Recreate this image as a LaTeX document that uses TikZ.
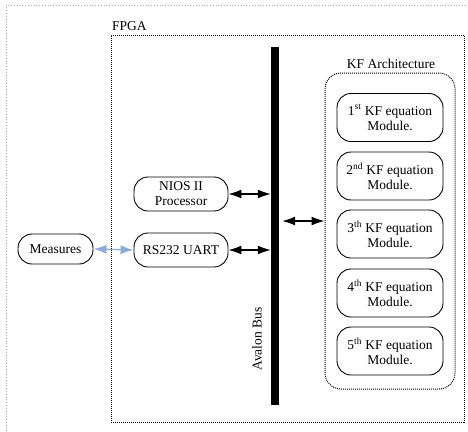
\documentclass[tikz,border=0pt]{standalone}
\usepackage{fontspec}
\setmainfont{Liberation Serif}
\usetikzlibrary{arrows.meta}
\begin{document}
\begin{tikzpicture}[x=1pt,y=-1pt,
  box/.style={draw, line width=0.9pt, rounded corners=14pt, align=center, inner sep=0pt, font=\fontsize{13.5}{15}\selectfont},
  mod/.style={box, minimum width=106pt, minimum height=48pt},
  frame/.style={draw, densely dotted, line width=1pt},
  lbl/.style={font=\fontsize{13.5}{15}\selectfont, inner sep=0pt},
  tip/.style={Latex[length=13pt,width=9pt]},
  biarrow/.style={line width=1.3pt, {Latex[length=13pt,width=9pt]}-{Latex[length=13pt,width=9pt]}},
  bluearrow/.style={line width=1.3pt, color=blueA, {Latex[length=13pt,width=9pt]}-{Latex[length=13pt,width=9pt]}}
]
\definecolor{blueA}{RGB}{143,170,212}
\useasboundingbox (0,0) rectangle (468,431);
% outer frame
\draw[gray!70, dotted, line width=0.8pt] (6,431) -- (6,5) -- (468,5);
% FPGA frame
\node[frame, minimum width=353pt, minimum height=387pt, inner sep=0pt] (fpga) at (287.5,228.5) {};
\node[lbl, anchor=west] (fpgalbl) at (112,26) {FPGA};
% bus
\node[fill=black, minimum width=8pt, minimum height=358pt, inner sep=0pt] (bus) at (275,226) {};
\node[lbl, rotate=90] (buslbl) at (257,339) {Avalon Bus};
% KF architecture
\node[frame, rounded corners=16pt, minimum width=130pt, minimum height=316pt, inner sep=0pt] (kf) at (390,231) {};
\node[lbl] (kflbl) at (391,64) {KF Architecture};
\node[mod] (m1) at (390,117.5) {1\textsuperscript{st} KF equation\\Module.};
\node[mod] (m2) at (390,176) {2\textsuperscript{nd} KF equation\\Module.};
\node[mod] (m3) at (390,234) {3\textsuperscript{th} KF equation\\Module.};
\node[mod] (m4) at (390,293) {4\textsuperscript{th} KF equation\\Module.};
\node[mod] (m5) at (390,351) {5\textsuperscript{th} KF equation\\Module.};
% left modules
\node[box, minimum width=94pt, minimum height=34pt] (nios) at (181,194) {NIOS II\\Processor};
\node[box, minimum width=94pt, minimum height=34pt] (uart) at (181,250) {RS232 UART};
\node[box, minimum width=75pt, minimum height=30pt] (meas) at (55.5,249) {Measures};
% connectors
\draw[biarrow] (nios.east) -- (nios.east -| bus.west);
\draw[biarrow] (uart.east) -- (uart.east -| bus.west);
\draw[biarrow, shorten <=3pt] (bus.east |- 0,221) -- (kf.west |- 0,221);
\draw[bluearrow] (meas.east) -- (uart.west);
\end{tikzpicture}
\end{document}
